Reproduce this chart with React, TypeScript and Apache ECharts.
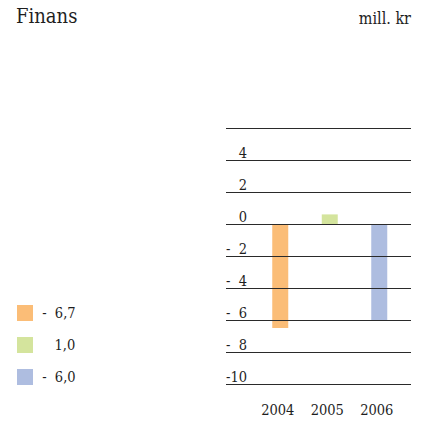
import React, { useEffect, useRef } from "react";
import * as echarts from "echarts";

const categories = ["2004", "2005", "2006"];
const barValues = [-6.5, 0.6, -6.0];
const legendLabels = ["- 6,7", "1,0", "- 6,0"];
const barColors = ["#FBBD77", "#D4E49D", "#AEBDE0"];
const yTicks = [-10, -8, -6, -4, -2, 0, 2, 4, 6];
const yTickLabels = ["-10", "- 8", "- 6", "- 4", "- 2", "0", "2", "4", ""];

const FONT = "DejaVu Serif Condensed";
const INK = "#1e1e1e";

function fmtY(label: string): string {
  if (label.startsWith("- ")) return "-\u00a0\u00a0" + label.slice(2);
  return label;
}

function fmtLegend(label: string): string {
  if (label.startsWith("- ")) return "\u00a0-\u00a0\u00a0" + label.slice(2);
  return "\u00a0\u00a0\u00a0\u00a0" + label;
}

export default function App() {
  const ref = useRef<HTMLDivElement>(null);
  useEffect(() => {
    if (!ref.current) return;
    const chart = echarts.init(ref.current, null, { renderer: "svg" });
    const series = categories.map((c, i) => ({
      name: c,
      type: "bar" as const,
      xAxisIndex: 1,
      yAxisIndex: 1,
      barWidth: 16,
      barGap: "-100%",
      itemStyle: { color: barColors[i] },
      data: categories.map((_, j) => (j === i ? barValues[i] : "-")),
    }));
    chart.setOption({
      animation: false,
      backgroundColor: "#ffffff",
      textStyle: { fontFamily: FONT },
      title: [
        {
          text: "Finans",
          left: 16,
          top: 6,
          padding: 0,
          textStyle: { fontFamily: FONT, fontSize: 20, fontWeight: "normal", color: INK },
        },
        {
          text: "mill. kr",
          right: 16,
          top: 10.5,
          padding: 0,
          textStyle: { fontFamily: FONT, fontSize: 16, fontWeight: "normal", color: INK },
        },
      ],
      legend: {
        orient: "vertical",
        left: 17,
        top: 305,
        padding: 0,
        itemWidth: 16,
        itemHeight: 16,
        itemGap: 16,
        icon: "rect",
        selectedMode: false,
        data: categories,
        formatter: (name: string) => fmtLegend(legendLabels[categories.indexOf(name)]),
        textStyle: { fontFamily: FONT, fontSize: 14.5, color: INK },
      },
      grid: [
        { left: 226, top: 128, width: 185, height: 256 },
        { left: 255.5, top: 128, width: 148.5, height: 256 },
      ],
      xAxis: [
        { type: "value", gridIndex: 0, show: false, min: 0, max: 1 },
        {
          type: "category",
          gridIndex: 1,
          data: categories,
          axisLine: { show: false },
          axisTick: { show: false },
          axisLabel: {
            margin: 18.5,
            fontFamily: FONT,
            fontSize: 14.5,
            color: INK,
            padding: [0, 5, 0, 0],
          },
        },
      ],
      yAxis: [
        {
          type: "value",
          gridIndex: 0,
          min: -10,
          max: 6,
          interval: 2,
          z: 5,
          axisLine: { show: false },
          axisTick: { show: false },
          splitLine: { show: true, lineStyle: { color: "#2a2a2a", width: 1 } },
          axisLabel: {
            margin: -21,
            align: "right",
            verticalAlign: "bottom",
            fontFamily: FONT,
            fontSize: 14.5,
            color: INK,
            formatter: (v: number) => {
              const idx = yTicks.indexOf(Math.round(v));
              return idx >= 0 ? fmtY(yTickLabels[idx]) : "";
            },
          },
        },
        { type: "value", gridIndex: 1, min: -10, max: 6, show: false, splitLine: { show: false } },
      ],
      series,
    });
    return () => chart.dispose();
  }, []);
  return (
    <div
      ref={ref}
      style={{ position: "fixed", left: 0, top: 0, width: 427, height: 421, background: "#fff" }}
    />
  );
}
